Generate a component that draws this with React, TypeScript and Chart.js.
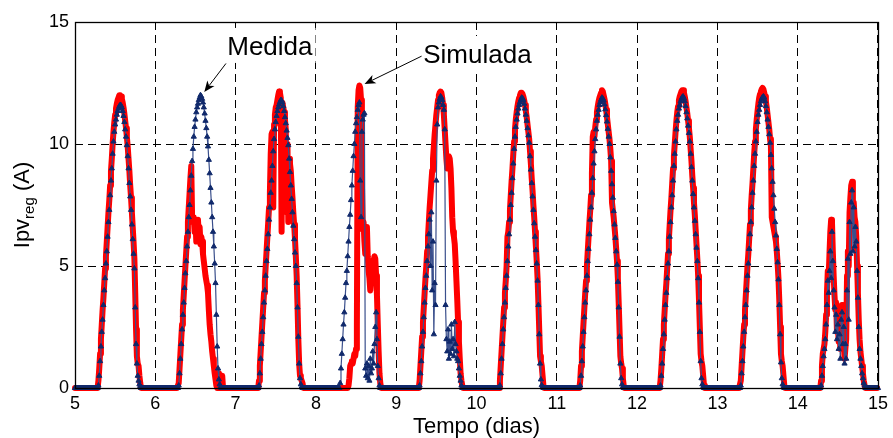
import React, { useEffect, useRef } from 'react';
import { Chart, registerables } from 'chart.js';

Chart.register(...registerables);

const FONT = '"Liberation Sans", Arial, Helvetica, sans-serif';

const X_MIN = 5;
const X_MAX = 15;
const X_STEP = 1;
const Y_MIN = 0;
const Y_MAX = 15;
const Y_STEP = 5;
const X_TITLE = 'Tempo (dias)';
const Y_TITLE_MAIN = 'Ipv';
const Y_TITLE_SUB = 'reg';
const Y_TITLE_UNIT = ' (A)';

const DAY_STARTS = [5, 6, 7, 8, 9, 10, 11, 12, 13, 14];
const SAMPLES_PER_DAY = 96; // 15-minute samples
const FIRST_DAYLIGHT_SAMPLE = 27; // 06:45, values below start here

// Medida (measured) – daylight values per day, 15 min apart
const MEDIDA_D5 = [0, 0.1, 0.5, 1.1, 1.7, 2.3, 2.8, 3.4, 4.0, 4.5, 5.1, 5.6, 6.2, 6.8, 7.3, 7.9, 8.5, 9.0, 9.6, 10.1, 10.5, 10.8, 11.0, 11.2, 11.35, 11.45, 11.55, 11.6, 11.58, 11.5, 11.35, 11.15, 10.9, 10.6, 10.3, 9.95, 9.5, 9.0, 8.4, 7.85, 7.3, 6.7, 6.1, 5.5, 4.9, 3.3, 1.8, 1.0, 0.5, 0.3, 0.15, 0.08, 0, 0, 0];
const MEDIDA_D6 = [0, 0.1, 0.6, 1.2, 1.8, 2.4, 3.0, 3.5, 4.1, 4.7, 5.2, 5.8, 6.4, 7.0, 7.5, 8.1, 8.7, 9.3, 9.8, 10.3, 10.7, 11.0, 11.3, 11.5, 11.65, 11.8, 11.9, 12.0, 11.95, 11.85, 11.7, 11.5, 11.25, 10.95, 10.65, 10.3, 9.9, 9.35, 8.8, 8.2, 7.6, 7.0, 6.4, 5.8, 5.1, 4.3, 3.0, 1.7, 0.8, 0.35, 0.15, 0.05, 0, 0, 0];
const MEDIDA_D7 = [0, 0.1, 0.6, 1.2, 1.8, 2.3, 2.9, 3.5, 4.0, 4.6, 5.2, 5.7, 6.3, 6.9, 7.4, 8.0, 8.5, 9.1, 9.7, 10.2, 10.6, 10.9, 11.15, 11.35, 11.5, 11.62, 11.72, 11.8, 11.78, 11.7, 11.55, 11.35, 11.1, 10.85, 10.55, 10.25, 9.95, 9.4, 8.85, 8.3, 7.75, 7.2, 6.65, 6.1, 5.55, 5.0, 4.3, 3.3, 2.1, 1.0, 0.4, 0.15, 0.05, 0, 0];
const MEDIDA_D8 = [0, 0, 0.2, 0.8, 1.4, 2.0, 2.6, 3.1, 3.7, 4.3, 4.8, 5.4, 6.0, 6.6, 7.1, 7.7, 8.3, 8.9, 9.5, 10.0, 10.5, 10.85, 11.1, 11.4, 11.6, 11.7, 8.5, 7.0, 10.5, 11.0, 11.2, 11.26, 0.8, 0.5, 1.0, 0.4, 0.9, 0.3, 1.2, 0.6, 0.8, 1.5, 1.0, 1.8, 2.5, 3.1, 2.0, 0.9, 0.4, 0.1, 0, 0, 0, 0, 0];
const MEDIDA_D9 = [0, 0.1, 0.6, 1.1, 1.7, 2.3, 2.9, 3.5, 4.1, 4.6, 5.2, 5.8, 6.3, 6.9, 5.0, 7.2, 4.0, 6.0, 2.2, 4.3, 3.4, 8.5, 10.8, 11.5, 11.7, 11.85, 11.95, 11.9, 11.8, 11.6, 11.4, 10.6, 3.4, 2.0, 1.5, 2.4, 1.2, 1.9, 1.4, 2.6, 1.6, 2.0, 1.3, 2.7, 1.8, 1.5, 1.2, 1.1, 0.8, 0.5, 0.3, 0.1, 0, 0, 0];
const MEDIDA_D10 = [0, 0.1, 0.6, 1.2, 1.8, 2.4, 2.9, 3.5, 4.1, 4.6, 5.2, 5.8, 6.3, 6.9, 7.5, 8.0, 8.6, 9.2, 9.8, 10.3, 10.7, 11.0, 11.25, 11.45, 11.6, 11.72, 11.82, 11.9, 11.88, 11.8, 11.65, 11.45, 11.2, 10.95, 10.65, 10.35, 10.05, 9.5, 8.95, 8.4, 7.85, 7.3, 6.75, 6.2, 5.65, 5.1, 4.4, 3.4, 2.2, 1.0, 0.35, 0.12, 0.05, 0, 0];
const MEDIDA_D11 = [0, 0.1, 0.5, 1.1, 1.7, 2.3, 2.9, 3.5, 4.0, 4.6, 5.2, 5.7, 6.3, 6.9, 7.4, 8.0, 8.6, 9.2, 9.7, 10.2, 10.6, 10.95, 11.2, 11.4, 11.6, 11.72, 11.82, 11.9, 11.86, 11.78, 11.62, 11.42, 11.18, 10.92, 10.62, 10.3, 10.0, 9.45, 8.9, 8.35, 7.8, 7.25, 6.7, 6.15, 5.6, 5.05, 4.35, 3.3, 2.1, 1.0, 0.4, 0.15, 0.05, 0, 0];
const MEDIDA_D12 = [0, 0.1, 0.5, 1.0, 1.6, 2.2, 2.8, 3.4, 3.9, 4.5, 5.1, 5.6, 6.2, 6.8, 7.4, 7.9, 8.5, 9.1, 9.6, 10.1, 10.6, 10.95, 11.2, 11.45, 11.6, 11.75, 11.85, 11.92, 11.95, 11.88, 11.75, 11.55, 11.3, 11.05, 10.75, 10.45, 10.1, 9.6, 9.05, 8.5, 7.95, 7.4, 6.85, 6.3, 5.75, 5.2, 4.5, 3.5, 2.3, 1.1, 0.4, 0.15, 0.05, 0, 0];
const MEDIDA_D13 = [0, 0.1, 0.6, 1.1, 1.7, 2.3, 2.9, 3.4, 4.0, 4.6, 5.1, 5.7, 6.3, 6.8, 7.4, 8.0, 8.5, 9.1, 9.6, 10.1, 10.5, 10.9, 11.2, 11.4, 11.6, 11.75, 11.85, 11.92, 11.95, 11.9, 11.75, 11.55, 11.3, 11.0, 10.7, 10.4, 10.05, 9.55, 9.0, 8.45, 7.9, 7.35, 6.8, 6.25, 5.7, 5.15, 4.45, 3.4, 2.2, 1.05, 0.4, 0.15, 0.05, 0, 0];
const MEDIDA_D14 = [0, 0.1, 0.5, 0.9, 1.3, 1.6, 2.0, 2.6, 3.4, 4.4, 3.9, 4.8, 5.6, 4.5, 6.4, 5.2, 4.0, 3.3, 2.3, 3.0, 2.0, 2.6, 1.6, 2.2, 1.2, 2.8, 3.1, 1.8, 2.5, 1.0, 1.8, 1.2, 4.0, 5.3, 2.8, 6.8, 5.5, 7.6, 8.1, 5.6, 7.4, 5.8, 6.6, 6.0, 4.8, 3.7, 2.5, 1.6, 1.2, 0.9, 0.6, 0.4, 0.2, 0.1, 0];

// Simulada (simulated) – daylight values per day, 15 min apart
const SIMULADA_D5 = [0, 0.3, 0.8, 1.4, 2.0, 2.6, 3.2, 3.7, 4.3, 4.9, 5.4, 6.0, 6.6, 7.2, 7.7, 8.3, 8.9, 9.4, 10.0, 10.5, 10.9, 11.2, 11.45, 11.65, 11.8, 11.9, 12.0, 12.0, 11.95, 11.85, 11.7, 11.5, 11.25, 10.95, 10.65, 10.3, 9.9, 9.4, 8.9, 8.3, 7.8, 7.2, 6.6, 6.0, 5.3, 3.9, 2.4, 1.3, 1.0, 0.9, 0.5, 0.2, 0, 0, 0];
const SIMULADA_D6 = [0, 0.2, 0.8, 1.4, 2.0, 2.6, 3.2, 3.8, 4.4, 5.0, 5.6, 6.2, 6.8, 7.4, 8.0, 8.6, 9.1, 7.0, 6.8, 7.0, 6.4, 6.9, 6.0, 6.7, 6.9, 6.3, 6.6, 5.9, 6.2, 6.0, 5.5, 5.2, 4.9, 4.6, 4.4, 4.2, 3.9, 3.2, 2.6, 2.2, 1.9, 1.5, 1.2, 0.9, 0.6, 0.35, 0.1, 0, 0.6, 0, 0, 0, 0, 0.5, 0];
const SIMULADA_D7 = [0, 0.3, 0.9, 1.5, 2.1, 2.7, 3.3, 3.9, 4.4, 5.0, 5.6, 6.2, 6.8, 7.4, 8.0, 9.6, 10.4, 10.5, 7.4, 10.8, 11.2, 11.5, 11.6, 11.8, 12.0, 12.15, 12.1, 11.9, 6.4, 11.7, 11.5, 11.3, 11.0, 10.6, 7.2, 10.0, 6.8, 9.4, 9.2, 8.9, 8.3, 7.8, 7.2, 6.7, 6.1, 5.4, 4.6, 3.4, 2.0, 1.0, 0.5, 0.4, 0.3, 0.2, 0];
const SIMULADA_D8 = [0, 0, 0, 0, 0, 0, 0, 0, 0, 0, 0, 0, 0.1, 0.4, 0.9, 1.0, 1.1, 1.0, 1.2, 1.4, 1.3, 1.6, 2.5, 11.5, 12.2, 12.4, 12.3, 11.8, 8.5, 6.5, 6.8, 6.0, 5.5, 6.2, 6.6, 5.4, 4.8, 4.5, 4.0, 4.6, 5.2, 4.8, 5.2, 5.4, 5.3, 4.6, 3.8, 2.6, 1.5, 0.6, 0.2, 0, 0, 0, 0];
const SIMULADA_D9 = [0, 0.3, 0.9, 1.5, 2.1, 2.7, 3.3, 3.9, 4.5, 5.0, 5.6, 6.2, 6.8, 7.4, 7.9, 8.4, 8.9, 9.4, 9.9, 10.4, 10.8, 11.2, 11.5, 11.8, 12.0, 12.1, 12.15, 12.1, 11.9, 11.6, 11.2, 10.6, 10.0, 9.4, 9.0, 9.4, 9.5, 9.4, 9.0, 8.2, 7.0, 6.4, 6.2, 5.9, 5.2, 4.4, 3.6, 2.7, 1.9, 1.2, 0.6, 0.3, 0.1, 0, 0];
const SIMULADA_D10 = [0, 0.3, 0.9, 1.5, 2.1, 2.7, 3.3, 3.9, 4.4, 5.0, 6.2, 6.4, 6.8, 7.3, 7.9, 8.5, 9.0, 9.6, 10.1, 10.6, 11.0, 11.3, 11.55, 11.75, 11.9, 12.0, 12.1, 12.1, 12.05, 11.95, 11.8, 11.6, 11.35, 11.1, 10.8, 10.5, 10.2, 9.7, 9.2, 8.6, 8.1, 7.5, 7.0, 6.4, 5.8, 5.2, 4.5, 3.5, 2.4, 1.3, 1.1, 0.9, 0.5, 0.1, 0];
const SIMULADA_D11 = [0, 0.3, 0.9, 1.5, 2.1, 2.7, 3.3, 3.9, 4.4, 5.0, 5.6, 6.2, 6.8, 7.3, 7.9, 8.8, 10.3, 10.5, 10.3, 10.7, 11.0, 11.3, 11.55, 11.75, 11.9, 12.0, 12.1, 12.2, 12.15, 12.0, 11.85, 11.65, 11.4, 11.1, 10.8, 10.5, 10.2, 9.8, 9.3, 7.6, 7.3, 7.0, 6.6, 6.2, 5.7, 5.2, 4.5, 3.5, 2.4, 1.3, 1.0, 0.8, 0.4, 0.1, 0];
const SIMULADA_D12 = [0, 0.3, 0.8, 1.4, 2.0, 2.6, 3.2, 3.8, 4.3, 4.9, 5.5, 6.1, 6.7, 7.3, 7.8, 8.4, 9.0, 9.5, 10.0, 10.5, 10.95, 11.3, 11.55, 11.8, 11.95, 12.05, 12.15, 12.2, 12.2, 12.1, 11.95, 11.75, 11.5, 11.25, 10.95, 10.65, 10.3, 9.8, 9.3, 8.7, 8.2, 7.6, 7.1, 6.5, 5.9, 5.3, 4.6, 3.6, 2.5, 1.4, 1.1, 0.9, 0.5, 0.1, 0];
const SIMULADA_D13 = [0, 0.3, 0.9, 1.5, 2.1, 2.6, 3.2, 3.8, 4.4, 5.0, 5.5, 6.1, 6.7, 7.3, 7.9, 8.4, 9.0, 9.6, 10.1, 10.6, 11.0, 11.35, 11.65, 11.9, 12.05, 12.15, 12.25, 12.3, 12.25, 12.1, 11.95, 11.75, 11.5, 11.2, 10.9, 10.6, 10.2, 9.9, 7.0, 6.8, 6.6, 6.4, 6.2, 6.0, 5.6, 5.1, 4.5, 3.6, 2.5, 1.4, 1.1, 0.9, 0.5, 0.1, 0];
const SIMULADA_D14 = [0, 0.3, 0.9, 1.4, 1.6, 1.8, 2.3, 3.0, 3.9, 4.8, 4.5, 5.5, 6.4, 6.9, 6.8, 5.6, 4.6, 3.8, 3.2, 3.5, 2.3, 2.6, 1.9, 2.5, 1.6, 3.0, 3.4, 2.4, 1.9, 1.2, 1.6, 2.0, 4.6, 5.6, 5.0, 7.2, 7.8, 8.3, 8.45, 7.6, 7.6, 7.0, 6.8, 6.2, 5.0, 3.9, 2.8, 2.0, 1.5, 1.2, 0.9, 0.6, 0.3, 0.1, 0];

const MEDIDA_DAYS = [MEDIDA_D5, MEDIDA_D6, MEDIDA_D7, MEDIDA_D8, MEDIDA_D9, MEDIDA_D10, MEDIDA_D11, MEDIDA_D12, MEDIDA_D13, MEDIDA_D14];
const SIMULADA_DAYS = [SIMULADA_D5, SIMULADA_D6, SIMULADA_D7, SIMULADA_D8, SIMULADA_D9, SIMULADA_D10, SIMULADA_D11, SIMULADA_D12, SIMULADA_D13, SIMULADA_D14];

// Annotations (data coordinates): text anchor, arrow tail, arrow tip
const ANNOTATIONS = [
  { label: 'Medida', text: [6.896, 13.65], tail: [6.88, 13.3], tip: [6.61, 12.13] },
  { label: 'Simulada', text: [9.337, 13.32], tail: [9.316, 13.6], tip: [8.606, 12.46] },
];

function buildSeries(days: number[][]) {
  const pts: { x: number; y: number }[] = [];
  days.forEach((vals, d) => {
    for (let i = 0; i < SAMPLES_PER_DAY; i++) {
      const k = i - FIRST_DAYLIGHT_SAMPLE;
      const v = k >= 0 && k < vals.length ? vals[k] : 0;
      pts.push({ x: DAY_STARTS[d] + i / SAMPLES_PER_DAY, y: v });
    }
  });
  pts.push({ x: X_MAX, y: 0 });
  return pts;
}

function drawArrow(ctx: CanvasRenderingContext2D, x0: number, y0: number, x1: number, y1: number) {
  const ang = Math.atan2(y1 - y0, x1 - x0);
  const c = Math.cos(ang);
  const s = Math.sin(ang);
  const L = 11;
  const W = 4.5;
  const notch = 3;
  ctx.beginPath();
  ctx.moveTo(x0, y0);
  ctx.lineTo(x1 - c * (L - notch), y1 - s * (L - notch));
  ctx.stroke();
  ctx.beginPath();
  ctx.moveTo(x1, y1);
  ctx.lineTo(x1 - L * c + W * s, y1 - L * s - W * c);
  ctx.lineTo(x1 - (L - notch) * c, y1 - (L - notch) * s);
  ctx.lineTo(x1 - L * c - W * s, y1 - L * s + W * c);
  ctx.closePath();
  ctx.fill();
}

const overlayPlugin = {
  id: 'overlay',
  afterDatasetsDraw(chart: any) {
    const { ctx, chartArea: a, scales } = chart;
    const xs = scales.x;
    const ys = scales.y;
    ctx.save();
    ctx.font = `26px ${FONT}`;
    ctx.textBaseline = 'alphabetic';
    ctx.textAlign = 'left';
    for (const an of ANNOTATIONS) {
      const tx = xs.getPixelForValue(an.text[0]);
      const ty = ys.getPixelForValue(an.text[1]);
      const w = ctx.measureText(an.label).width;
      ctx.fillStyle = '#ffffff';
      ctx.fillRect(tx - 3, ty - 27, w + 6, 35);
    }
    // frame
    ctx.strokeStyle = '#000';
    ctx.lineWidth = 1.3;
    ctx.strokeRect(Math.round(a.left) + 0.5, Math.round(a.top) + 0.5, Math.round(a.right - a.left), Math.round(a.bottom - a.top));
    // annotation texts and arrows
    ctx.fillStyle = '#000';
    ctx.lineWidth = 1;
    for (const an of ANNOTATIONS) {
      const tx = xs.getPixelForValue(an.text[0]);
      const ty = ys.getPixelForValue(an.text[1]);
      ctx.fillText(an.label, tx, ty);
      drawArrow(
        ctx,
        xs.getPixelForValue(an.tail[0]),
        ys.getPixelForValue(an.tail[1]),
        xs.getPixelForValue(an.tip[0]),
        ys.getPixelForValue(an.tip[1])
      );
    }
    // x title
    ctx.font = `22px ${FONT}`;
    ctx.textAlign = 'center';
    ctx.fillText(X_TITLE, (a.left + a.right) / 2, a.bottom + 45);
    // y title with subscript
    ctx.save();
    ctx.translate(29, (a.top + a.bottom) / 2);
    ctx.rotate(-Math.PI / 2);
    ctx.textAlign = 'left';
    ctx.font = `22px ${FONT}`;
    const w1 = ctx.measureText(Y_TITLE_MAIN).width;
    const w3 = ctx.measureText(Y_TITLE_UNIT).width;
    ctx.font = `15px ${FONT}`;
    const w2 = ctx.measureText(Y_TITLE_SUB).width;
    let sx = -(w1 + w2 + w3) / 2;
    ctx.font = `22px ${FONT}`;
    ctx.fillText(Y_TITLE_MAIN, sx, 0);
    sx += w1;
    ctx.font = `15px ${FONT}`;
    ctx.fillText(Y_TITLE_SUB, sx, 5);
    sx += w2;
    ctx.font = `22px ${FONT}`;
    ctx.fillText(Y_TITLE_UNIT, sx, 0);
    ctx.restore();
    ctx.restore();
  },
};

export default function App() {
  const ref = useRef<HTMLCanvasElement>(null);

  useEffect(() => {
    const canvas = ref.current;
    if (!canvas) return;
    const gridCommon = { color: '#000000', lineWidth: 1, drawTicks: false };
    const chart = new Chart(canvas, {
      type: 'line',
      data: {
        datasets: [
          {
            label: 'Medida',
            data: buildSeries(MEDIDA_DAYS),
            borderColor: '#3a4f8c',
            borderWidth: 1.2,
            pointStyle: 'triangle',
            pointRadius: 3,
            pointBackgroundColor: '#10296b',
            pointBorderColor: '#10296b',
            pointBorderWidth: 1,
            tension: 0,
            order: 1,
            clip: 5,
          },
          {
            label: 'Simulada',
            data: buildSeries(SIMULADA_DAYS),
            borderColor: '#ff0000',
            borderWidth: 6,
            pointRadius: 0,
            tension: 0,
            borderJoinStyle: 'round',
            borderCapStyle: 'round',
            order: 2,
            clip: 5,
          },
        ],
      },
      options: {
        animation: false,
        responsive: false,
        maintainAspectRatio: false,
        devicePixelRatio: 1,
        layout: { padding: { top: 22, right: 11, left: 0, bottom: 0 } },
        plugins: { legend: { display: false }, tooltip: { enabled: false } },
        scales: {
          x: {
            type: 'linear',
            min: X_MIN,
            max: X_MAX,
            afterFit: (s: any) => {
              s.height = 50;
            },
            ticks: {
              stepSize: X_STEP,
              color: '#000',
              font: { family: FONT, size: 18 },
              padding: 5,
              maxRotation: 0,
              autoSkip: false,
            },
            grid: gridCommon,
            border: { display: false, dash: [8, 5] },
          },
          y: {
            type: 'linear',
            min: Y_MIN,
            max: Y_MAX,
            afterFit: (s: any) => {
              s.width = 75;
            },
            ticks: {
              stepSize: Y_STEP,
              color: '#000',
              font: { family: FONT, size: 18 },
              padding: 6,
            },
            grid: gridCommon,
            border: { display: false, dash: [8, 5] },
          },
        },
      } as any,
      plugins: [overlayPlugin],
    } as any);
    return () => chart.destroy();
  }, []);

  return (
    <div style={{ position: 'fixed', left: 0, top: 0, width: 893, height: 438, background: '#ffffff' }}>
      <canvas ref={ref} width={893} height={438} style={{ display: 'block', width: 893, height: 438 }} />
    </div>
  );
}
